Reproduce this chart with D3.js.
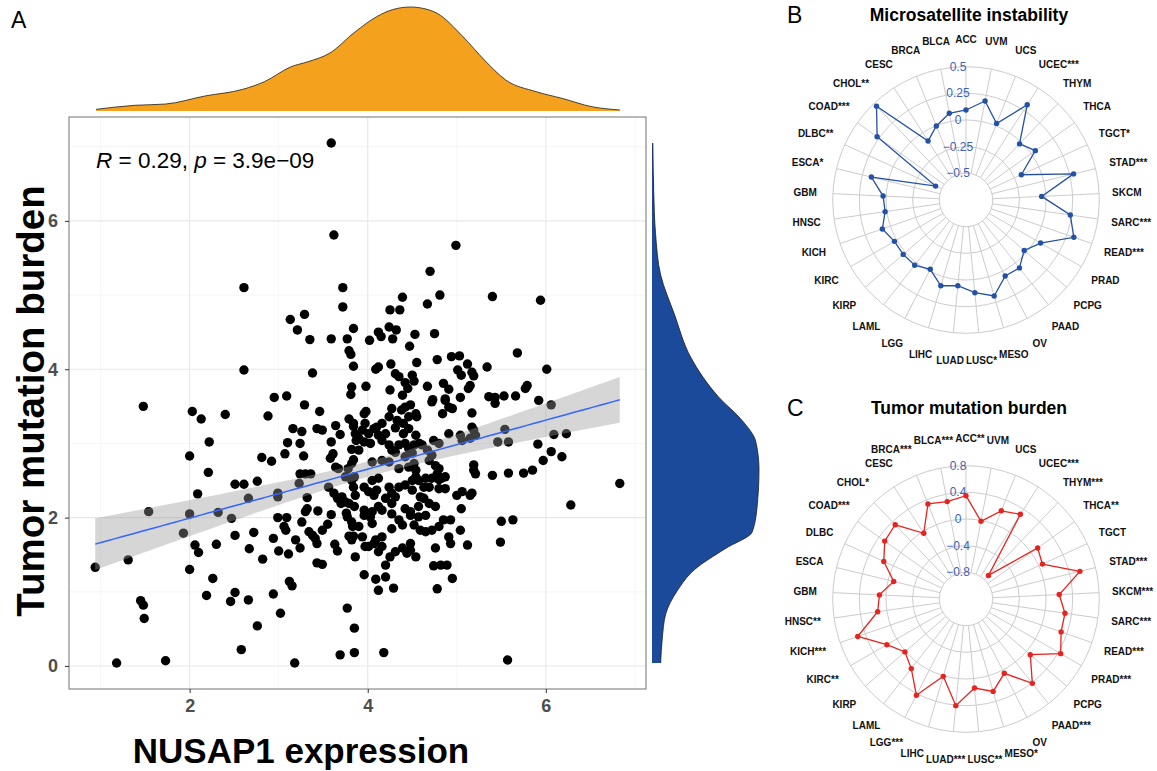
<!DOCTYPE html>
<html>
<head>
<meta charset="utf-8">
<script src="https://cdn.jsdelivr.net/npm/d3@7"></script>
<style>
  body { margin: 0; background: #fff; }
  svg { font-family: "Liberation Sans", Arial, sans-serif; }
</style>
</head>
<body>
<svg id="chart" width="1157" height="771"></svg>
<script>
// NUSAP1 expression vs tumor mutation burden, one pair per sample
var samples = [
  [3.59,7.05],[3.62,5.81],[2.61,5.10],[3.72,5.10],[3.72,4.84],[3.13,4.67],[3.29,4.74],[3.21,4.53],[3.35,4.40],[3.59,4.41],
  [3.77,4.41],[3.84,4.55],[3.79,4.25],[3.81,4.20],[3.84,4.04],[2.61,3.99],[3.38,3.95],[3.82,3.76],[3.81,3.66],[2.95,3.62],[3.09,3.64],
  [4.99,5.67],[4.70,5.32],[4.39,4.97],[4.25,4.80],[4.36,4.80],[4.67,4.88],[4.81,5.00],[5.40,4.98],[5.94,4.93],[4.02,4.39],
  [4.12,4.50],[4.15,4.44],[4.24,4.57],[4.32,4.53],[4.28,4.41],[4.53,4.47],[4.47,4.31],[4.75,4.48],[4.12,4.03],[4.09,4.00],
  [4.26,4.07],[4.55,4.09],[4.78,4.13],[4.94,4.17],[5.03,4.18],[5.12,4.07],[5.17,3.96],[5.19,3.91],[5.01,3.99],[5.05,3.92],
  [5.34,4.03],[5.68,4.22],[6.01,4.00],[3.98,3.77],[4.31,3.94],[4.35,3.90],[4.42,3.82],[4.50,3.92],[4.52,3.84],[4.25,3.72],
  [4.39,3.65],[4.45,3.74],[4.67,3.77],[4.85,3.81],[4.91,3.73],[5.15,3.78],[5.13,3.74],[5.36,3.63],[5.43,3.62],[5.53,3.64],
  [5.66,3.64],[5.79,3.78],[5.77,3.74],[5.92,3.58],[4.73,3.59],[4.87,3.60],[5.04,3.62],
  [1.48,3.50],[2.03,3.43],[2.13,3.33],[2.40,3.39],[3.29,3.52],[3.46,3.43],[2.88,3.37],[3.79,3.33],[3.16,3.20],[3.26,3.16],
  [3.43,3.20],[3.49,3.18],[3.64,3.24],[3.69,3.12],[3.84,3.27],[3.86,3.13],[3.87,3.04],[2.22,3.02],[3.10,3.01],[3.24,3.00],
  [3.59,3.02],[3.82,2.92],[2.00,2.83],[2.81,2.81],[2.92,2.76],[3.07,2.86],[3.28,2.83],[3.58,2.80],[3.61,2.86],[3.64,2.68],
  [3.67,2.66],[3.78,2.66],[3.82,2.73],[2.21,2.61],[3.24,2.59],[3.30,2.59],[3.36,2.59],[2.76,2.49],[2.51,2.45],[2.61,2.45],
  [3.23,2.46],[3.56,2.41],[3.85,2.55],[3.84,2.41],[2.09,2.32],[2.66,2.26],[2.99,2.33],[2.99,2.28],[3.32,2.27],[3.62,2.33],
  [3.66,2.26],[3.75,2.21],[3.70,2.19],[3.86,2.30],[3.85,2.15],[1.54,2.08],[2.00,2.05],[2.32,2.07],[2.47,1.99],[2.99,2.00],
  [3.09,2.00],[3.06,1.88],[3.08,1.83],[3.30,2.08],[3.32,2.12],[3.44,2.09],[3.26,1.94],[3.59,2.04],[3.55,1.91],[3.34,1.81],
  [3.38,1.76],[3.41,1.72],[3.43,1.65],[3.49,1.83],[3.76,2.06],[3.77,2.01],[3.82,1.94],[3.83,1.88],[3.79,1.75],[3.84,1.75],
  [1.93,1.79],[2.06,1.63],[2.10,1.53],[2.30,1.64],[2.51,1.76],[2.72,1.80],[2.67,1.58],[2.94,1.72],[2.82,1.44],[3.00,1.55],
  [3.11,1.51],[3.19,1.70],[3.24,1.59],[3.63,1.64],[3.66,1.55],[3.43,1.39],[3.49,1.37],[0.94,1.33],[1.31,1.43],[2.00,1.30],
  [2.26,1.18],[3.12,1.14],[3.15,1.08],[2.19,0.95],[2.51,0.99],[2.46,0.87],[2.66,0.89],[2.94,0.97],[3.02,0.71],[1.45,0.88],
  [1.48,0.82],[1.49,0.64],[3.77,0.78],[3.85,0.51],[2.76,0.54],[2.58,0.22],[1.18,0.04],[1.73,0.07],[3.18,0.04],[3.69,0.15],[3.85,0.18],
  [4.72,3.56],[4.91,3.49],[4.95,3.47],[5.43,3.54],[6.06,3.52],[3.84,3.23],[3.94,3.18],[3.97,3.27],[3.90,3.07],[3.96,3.40],
  [3.98,3.43],[4.10,3.22],[4.16,3.27],[4.24,3.36],[4.27,3.47],[4.33,3.31],[4.40,3.27],[4.46,3.36],[4.54,3.40],[4.55,3.36],
  [4.42,3.49],[4.38,3.45],[4.48,3.52],[4.84,3.40],[4.87,3.58],[5.17,3.41],[5.17,3.22],[5.19,3.18],[4.91,3.13],[5.04,3.11],
  [5.21,3.11],[5.15,3.07],[4.74,3.04],[4.80,3.00],[4.61,2.98],[4.58,3.00],[4.52,2.98],[4.46,2.93],[4.67,2.91],[4.31,2.88],
  [4.16,3.04],[4.12,3.11],[4.20,3.13],[4.24,2.98],[4.05,2.75],[4.16,2.77],[4.24,2.75],[4.35,2.66],[4.46,2.68],[4.52,2.73],
  [4.54,2.64],[4.69,2.77],[4.72,2.84],[4.76,2.70],[4.80,2.66],[4.78,2.59],[4.83,2.53],[4.87,2.55],[4.72,2.53],[4.80,2.51],
  [4.65,2.53],[4.63,2.41],[4.69,2.41],[4.80,2.39],[4.87,2.39],[5.06,3.04],[5.19,2.71],[5.19,2.64],[5.21,2.59],[5.40,2.57],
  [5.58,2.60],[5.75,2.60],[5.85,2.64],[5.46,3.02],[5.58,3.02],[5.54,3.19],[5.91,2.99],[5.97,2.77],[6.06,2.89],[6.18,2.82],
  [6.09,3.12],[6.23,3.13],[6.83,2.46],[6.28,2.17],[5.50,1.95],[5.63,1.97],[5.49,1.67],
  [3.90,1.88],[3.96,2.03],[4.05,1.92],[3.94,1.74],[3.97,1.61],[4.07,1.65],[4.16,1.74],[4.16,1.61],[4.27,1.85],[4.39,1.90],
  [4.52,1.90],[4.57,2.01],[4.65,2.03],[4.59,1.83],[4.65,1.81],[4.72,1.83],[4.80,1.88],[4.85,1.97],[4.93,1.97],[5.04,1.83],
  [4.91,1.74],[4.93,1.65],[5.12,1.63],[4.76,1.59],[4.39,1.59],[4.44,1.52],[4.25,1.47],[4.20,1.36],[3.96,1.23],[4.09,1.17],
  [4.20,1.20],[4.12,1.02],[4.29,1.05],[4.74,1.35],[4.82,1.36],[4.89,1.36],[4.95,1.18],[4.78,1.04],
  [4.12,2.53],[4.24,2.41],[4.27,2.33],[4.20,2.26],[4.31,2.28],[4.12,2.15],[4.05,2.08],[4.16,2.10],[4.27,2.19],[3.79,2.19],
  [3.96,2.10],[3.75,2.55],[3.82,2.50],[3.84,2.78],[4.05,2.50],[4.10,2.37],[4.35,2.41],[4.42,2.44],[4.50,2.50],[4.57,2.50],
  [4.50,2.37],[4.59,2.28],[4.57,2.15],[4.69,2.19],[4.42,2.12],[4.48,2.08],[4.76,2.15],[4.54,2.55],[5.00,2.30],[5.06,2.35],
  [5.15,2.30],[5.17,2.33],[5.05,2.12],[5.57,0.08],[4.18,0.18],
  [4.01,3.13],[4.07,3.20],[4.31,3.21],[4.40,3.13],[4.46,3.20],[4.54,3.11],[4.42,3.00],[4.35,2.98],[4.27,2.91],[4.03,3.00],
  [3.96,3.02],[3.90,2.91],[4.42,2.82],[4.50,2.87],[3.96,2.41],[4.01,2.35],[4.07,2.30],[3.71,2.28],[4.03,2.01],[4.27,2.05],
  [4.35,1.97],[4.48,2.03],[3.82,1.70],[4.09,1.70],[4.01,1.61],[4.12,1.54],[4.31,1.54],[3.86,1.47],[4.54,1.47],[4.48,1.56],
  [4.63,2.26],[4.48,1.65]
];
var xTicks = [2, 4, 6], xMinor = [1, 3, 5, 7];
var yTicks = [0, 2, 4, 6], yMinor = [1, 3, 5, 7];

// marginal density curves (relative height, 1 = peak)
var densityX = [0.95, 1.39, 1.73, 2.17, 2.60, 2.84, 3.14, 3.33, 3.57, 3.86, 4.10, 4.28, 4.48, 4.63, 4.78, 5.07, 5.31, 5.55, 5.89, 6.18, 6.52, 6.83];
var densityXValue = [0.016, 0.055, 0.067, 0.144, 0.209, 0.282, 0.426, 0.474, 0.555, 0.762, 0.907, 0.975, 1.0, 0.985, 0.939, 0.714, 0.490, 0.298, 0.186, 0.122, 0.041, 0.010];
var densityY = [0.04, 0.37, 0.70, 1.02, 1.30, 1.58, 1.81, 2.19, 2.65, 3.03, 3.31, 3.63, 4.15, 4.75, 5.27, 5.83, 6.40, 7.05];
var densityYValue = [0.081, 0.096, 0.128, 0.239, 0.398, 0.683, 0.938, 0.985, 1.0, 0.969, 0.842, 0.620, 0.366, 0.207, 0.081, 0.033, 0.016, 0.008];

// radar charts: cancer types, clockwise from the top
var cancers = ["ACC","UVM","UCS","UCEC","THYM","THCA","TGCT","STAD","SKCM","SARC","READ","PRAD","PCPG","PAAD","OV",
  "MESO","LUSC","LUAD","LIHC","LGG","LAML","KIRP","KIRC","KICH","HNSC","GBM","ESCA","DLBC","COAD","CHOL","CESC","BRCA","BLCA"];
var msiStars = ["","","","***","","","*","***","","***","***","","","","","","*","","","","","","","","","","*","**","***","**","","",""];
var msiValues = [0.094,0.195,0.022,0.312,-0.023,0.048,-0.180,0.288,-0.040,0.238,0.320,0.057,-0.028,0.060,0.052,
  0.188,0.123,0.057,0.088,-0.019,0.028,0.029,0.025,0.080,0.016,0.028,0.163,-0.437,0.273,0.466,-0.092,-0.002,0.078];
var msiTicks = [-0.5, -0.25, 0, 0.25, 0.5];
var tmbStars = ["**","","","***","***","**","","***","***","***","***","***","","***","","*","**","***","","***","","","**","***","**","","","","***","*","","***","***"];
var tmbValues = [0.350,-0.013,0.225,0.310,-0.712,0.120,0.060,0.559,0.200,0.300,0.310,0.440,0.076,0.410,0.054,
  0.245,0.141,0.407,0.009,0.424,0.128,0.012,0.171,0.519,0.139,0.100,-0.084,0.156,0.297,0.339,-0.028,0.337,0.288];
var tmbTicks = [-0.8, -0.4, 0, 0.4, 0.8];

var svg = d3.select("#chart");

// ---------- A: scatter with marginal densities ----------
var pA = { left: 69, right: 646, top: 117, bottom: 689 };
var xs = samples.map(function (d) { return d[0]; });
var ys = samples.map(function (d) { return d[1]; });
var xExt = d3.extent(xs), yExt = d3.extent(ys);
var xPad = (xExt[1] - xExt[0]) * 0.05, yPad = (yExt[1] - yExt[0]) * 0.05;

var xScale = d3.scaleLinear().domain([xExt[0] - xPad, xExt[1] + xPad]).range([pA.left, pA.right]);
var yScale = d3.scaleLinear().domain([yExt[0] - yPad, yExt[1] + yPad]).range([pA.bottom, pA.top]);

svg.append("clipPath").attr("id", "clipA").append("rect")
  .attr("x", pA.left).attr("y", pA.top)
  .attr("width", pA.right - pA.left).attr("height", pA.bottom - pA.top);

var grid = svg.append("g");
grid.selectAll("line.vmin").data(xMinor).join("line")
  .attr("x1", xScale).attr("x2", xScale).attr("y1", pA.top).attr("y2", pA.bottom)
  .attr("stroke", "#f0f0f0").attr("stroke-width", 0.6);
grid.selectAll("line.hmin").data(yMinor).join("line")
  .attr("y1", yScale).attr("y2", yScale).attr("x1", pA.left).attr("x2", pA.right)
  .attr("stroke", "#f0f0f0").attr("stroke-width", 0.6);
grid.selectAll("line.vmaj").data(xTicks).join("line")
  .attr("x1", xScale).attr("x2", xScale).attr("y1", pA.top).attr("y2", pA.bottom)
  .attr("stroke", "#e8e8e8").attr("stroke-width", 1.1);
grid.selectAll("line.hmaj").data(yTicks).join("line")
  .attr("y1", yScale).attr("y2", yScale).attr("x1", pA.left).attr("x2", pA.right)
  .attr("stroke", "#e8e8e8").attr("stroke-width", 1.1);

var plotA = svg.append("g").attr("clip-path", "url(#clipA)");
plotA.selectAll("circle").data(samples).join("circle")
  .attr("cx", function (d) { return xScale(d[0]); })
  .attr("cy", function (d) { return yScale(d[1]); })
  .attr("r", 4.7)
  .attr("fill", "#000");

// linear fit with 95% confidence band
var n = xs.length, mx = d3.mean(xs), my = d3.mean(ys);
var sxx = d3.sum(xs, function (x) { return (x - mx) * (x - mx); });
var sxy = d3.sum(xs.map(function (x, i) { return (x - mx) * (ys[i] - my); }));
var slope = sxy / sxx, icpt = my - slope * mx;
var sres = Math.sqrt(d3.sum(xs.map(function (x, i) {
  var e = ys[i] - icpt - slope * x; return e * e;
})) / (n - 2));
var fit = d3.range(80).map(function (i) {
  var x = xExt[0] + i * (xExt[1] - xExt[0]) / 79;
  var yh = icpt + slope * x;
  var se = sres * Math.sqrt(1 / n + (x - mx) * (x - mx) / sxx);
  return { x: x, y: yh, lo: yh - 1.966 * se, hi: yh + 1.966 * se };
});
plotA.append("path").datum(fit)
  .attr("d", d3.area().x(function (d) { return xScale(d.x); })
    .y0(function (d) { return yScale(d.lo); }).y1(function (d) { return yScale(d.hi); }))
  .attr("fill", "#999999").attr("fill-opacity", 0.4);
plotA.append("path").datum(fit)
  .attr("d", d3.line().x(function (d) { return xScale(d.x); }).y(function (d) { return yScale(d.y); }))
  .attr("fill", "none").attr("stroke", "#3366FF").attr("stroke-width", 1.5);

svg.append("rect")
  .attr("x", pA.left).attr("y", pA.top)
  .attr("width", pA.right - pA.left).attr("height", pA.bottom - pA.top)
  .attr("fill", "none").attr("stroke", "#7f7f7f").attr("stroke-width", 1.1);

var corr = svg.append("text").attr("x", 96).attr("y", 168)
  .attr("font-size", 22.5).attr("fill", "#000");
corr.append("tspan").attr("font-style", "italic").text("R");
corr.append("tspan").text(" = 0.29, ");
corr.append("tspan").attr("font-style", "italic").text("p");
corr.append("tspan").text(" = 3.9e\u221209");

// axes
var xAxis = svg.append("g").attr("transform", "translate(0," + pA.bottom + ")")
  .call(d3.axisBottom(xScale).tickValues(xTicks).tickSize(4).tickPadding(6).tickFormat(d3.format("d")));
var yAxis = svg.append("g").attr("transform", "translate(" + pA.left + ",0)")
  .call(d3.axisLeft(yScale).tickValues(yTicks).tickSize(4).tickPadding(7).tickFormat(d3.format("d")));
[xAxis, yAxis].forEach(function (ax) {
  ax.select(".domain").remove();
  ax.selectAll(".tick line").attr("stroke", "#333");
  ax.selectAll(".tick text")
    .attr("font-family", "Liberation Sans, Arial, sans-serif")
    .attr("font-size", 18).attr("font-weight", "bold").attr("fill", "#4d4d4d");
});

svg.append("text").attr("x", 301).attr("y", 763)
  .attr("text-anchor", "middle").attr("font-size", 35).attr("font-weight", "bold")
  .text("NUSAP1 expression");
svg.append("text")
  .attr("transform", "translate(44,401) rotate(-90)")
  .attr("text-anchor", "middle").attr("font-size", 38.5).attr("font-weight", "bold")
  .text("Tumor mutation burden");
svg.append("text").attr("x", 11).attr("y", 28).attr("font-size", 23).text("A");

// marginal densities
var topDens = densityX.map(function (x, i) { return [x, densityXValue[i]]; });
var hTop = d3.scaleLinear().domain([0, 1]).range([111, 7]);
svg.append("path").datum(topDens)
  .attr("d", d3.area().curve(d3.curveMonotoneX)
    .x(function (d) { return xScale(d[0]); }).y0(hTop(0)).y1(function (d) { return hTop(d[1]); }))
  .attr("fill", "#F4A11D");
svg.append("path").datum(topDens)
  .attr("d", d3.line().curve(d3.curveMonotoneX)
    .x(function (d) { return xScale(d[0]); }).y(function (d) { return hTop(d[1]); }))
  .attr("fill", "none").attr("stroke", "#1a1a1a").attr("stroke-width", 0.8);

var sideDens = densityY.map(function (y, i) { return [y, densityYValue[i]]; }).reverse();
var wSide = d3.scaleLinear().domain([0, 1]).range([652, 759]);
svg.append("path").datum(sideDens)
  .attr("d", d3.area().curve(d3.curveMonotoneY)
    .y(function (d) { return yScale(d[0]); }).x0(wSide(0)).x1(function (d) { return wSide(d[1]); }))
  .attr("fill", "#1C4A9B");
svg.append("path").datum(sideDens)
  .attr("d", d3.line().curve(d3.curveMonotoneY)
    .y(function (d) { return yScale(d[0]); }).x(function (d) { return wSide(d[1]); }))
  .attr("fill", "none").attr("stroke", "#1a1a1a").attr("stroke-width", 0.8);

// ---------- B / C: radar charts ----------
function drawRadar(o) {
  var g = svg.append("g").attr("transform", "translate(" + o.cx + "," + o.cy + ")");
  var step = 2 * Math.PI / cancers.length;
  var r = d3.scaleLinear().domain(d3.extent(o.ticks)).range([26.7, 133.3]);
  var r0 = r.range()[0], r1 = r.range()[1];
  var labR = 161, labSize = 10;

  g.selectAll("circle.ring").data(o.ticks).join("circle")
    .attr("r", function (d) { return r(d); })
    .attr("fill", "none").attr("stroke", "#cccccc").attr("stroke-width", 1);
  g.selectAll("line.spoke").data(cancers).join("line")
    .attr("x1", function (d, i) { return r0 * Math.sin(i * step); })
    .attr("y1", function (d, i) { return -r0 * Math.cos(i * step); })
    .attr("x2", function (d, i) { return r1 * Math.sin(i * step); })
    .attr("y2", function (d, i) { return -r1 * Math.cos(i * step); })
    .attr("stroke", "#cccccc").attr("stroke-width", 1);

  g.selectAll("text.tick").data(o.ticks).join("text")
    .attr("x", -8).attr("y", function (d) { return -r(d); })
    .attr("text-anchor", "middle").attr("dominant-baseline", "central")
    .attr("font-size", 12).attr("fill", "#3A62B4")
    .text(function (d) { return d < 0 ? "\u2212" + Math.abs(d) : String(d); });

  g.append("path").datum(o.values)
    .attr("d", d3.lineRadial().angle(function (d, i) { return i * step; })
      .radius(function (d) { return r(d); }).curve(d3.curveLinearClosed))
    .attr("fill", "none").attr("stroke", o.color).attr("stroke-width", 1.3);
  g.selectAll("circle.pt").data(o.values).join("circle")
    .attr("cx", function (d, i) { return r(d) * Math.sin(i * step); })
    .attr("cy", function (d, i) { return -r(d) * Math.cos(i * step); })
    .attr("r", 2.7).attr("fill", o.color);

  // the name sits on the label circle; the stars push the text outward on each side
  var labX = cancers.map(function (d, i) {
    var s = Math.sin(i * step);
    return labR * s + (Math.abs(s) < 0.05 ? 0 : Math.sign(s) * o.stars[i].length * 0.389 * labSize / 2);
  });
  var labels = g.selectAll("text.lab").data(cancers).join("text")
    .attr("x", function (d, i) { return labX[i]; })
    .attr("y", function (d, i) { return -labR * Math.cos(i * step); })
    .attr("text-anchor", "middle").attr("dominant-baseline", "central")
    .attr("font-size", labSize).attr("font-weight", "bold").attr("fill", "#111")
    .text(function (d, i) { return d + o.stars[i]; });

  // push apart any neighbouring labels that touch
  var boxes = labels.nodes().map(function (el) { return el.getBBox(); });
  for (var it = 0; it < 20; it++) {
    var moved = false;
    for (var a = 0; a < boxes.length; a++) {
      for (var b = a + 1; b < boxes.length; b++) {
        var A = boxes[a], B = boxes[b];
        var ox = Math.min(A.x + A.width, B.x + B.width) - Math.max(A.x, B.x) + 2;
        var oy = Math.min(A.y + A.height, B.y + B.height) - Math.max(A.y, B.y);
        if (ox > 0 && oy > 1) {
          var left = A.x < B.x ? a : b, right = left === a ? b : a;
          labX[left] -= ox / 2; labX[right] += ox / 2;
          boxes[left].x -= ox / 2; boxes[right].x += ox / 2;
          moved = true;
        }
      }
    }
    if (!moved) break;
  }
  labels.attr("x", function (d, i) { return labX[i]; });

  svg.append("text").attr("x", o.cx + 3).attr("y", o.titleY)
    .attr("text-anchor", "middle").attr("font-size", 17.5).attr("font-weight", "bold")
    .text(o.title);
  svg.append("text").attr("x", 787).attr("y", o.titleY + 2).attr("font-size", 23).text(o.letter);
}

drawRadar({ cx: 966, cy: 200, titleY: 21, title: "Microsatellite instability", letter: "B",
  values: msiValues, stars: msiStars, ticks: msiTicks, color: "#2451A3" });
drawRadar({ cx: 966, cy: 599, titleY: 414, title: "Tumor mutation burden", letter: "C",
  values: tmbValues, stars: tmbStars, ticks: tmbTicks, color: "#E8231F" });
</script>
</body>
</html>
